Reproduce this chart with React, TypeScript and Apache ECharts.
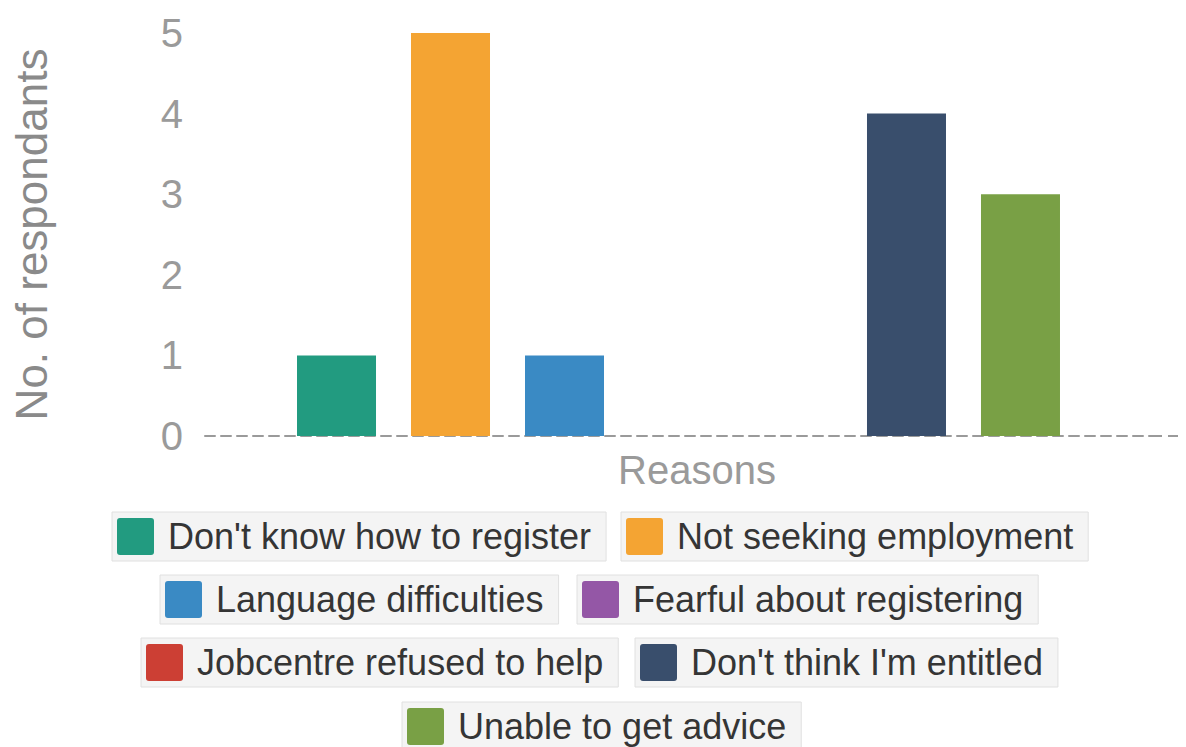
import React, { useEffect, useRef } from "react";
import * as echarts from "echarts";

const categories = ["Reasons"];
const seriesNames = [
  "Don't know how to register",
  "Not seeking employment",
  "Language difficulties",
  "Fearful about registering",
  "Jobcentre refused to help",
  "Don't think I'm entitled",
  "Unable to get advice",
];
const seriesValues = [1, 5, 1, 0, 0, 4, 3];
const seriesColors = ["#229b80", "#f4a433", "#3a8ac4", "#9457a6", "#cc3f34", "#394e6c", "#79a045"];
const yTicks = [0, 1, 2, 3, 4, 5];

// legend box positions [left, top]
const legendPos = [
  [112, 512],
  [621, 512],
  [160, 575],
  [577, 575],
  [141, 638],
  [635, 638],
  [402, 702],
];

const squareIcon = "path://M3,0 H34 Q37,0 37,3 V34 Q37,37 34,37 H3 Q0,37 0,34 V3 Q0,0 3,0 Z";

export default function App() {
  const ref = useRef<HTMLDivElement>(null);
  useEffect(() => {
    if (!ref.current) return;
    const chart = echarts.init(ref.current, undefined, { renderer: "svg" });
    const font = "'Liberation Sans', Arial, sans-serif";
    chart.setOption({
      animation: false,
      textStyle: { fontFamily: font },
      grid: { left: 205, right: 34, top: 33, bottom: 311, containLabel: false },
      xAxis: {
        type: "category",
        data: categories,
        axisLine: { show: true, lineStyle: { color: "#9a9a9a", width: 2, type: [10, 6] } },
        axisTick: { show: false },
        axisLabel: { color: "#9a9a9a", fontSize: 40, margin: 14, padding: [0, 0, 0, 37], fontFamily: font },
      },
      yAxis: {
        type: "value",
        min: yTicks[0],
        max: yTicks[yTicks.length - 1],
        interval: 1,
        name: "No. of respondants",
        nameLocation: "middle",
        nameGap: 152,
        nameRotate: 90,
        nameTextStyle: { color: "#8a8a8a", fontSize: 44, fontFamily: font },
        axisLine: { show: false },
        axisTick: { show: false },
        splitLine: { show: false },
        axisLabel: { color: "#9a9a9a", fontSize: 40, margin: 22, fontFamily: font },
      },
      legend: seriesNames.map((n, i) => ({
        data: [n],
        left: legendPos[i][0],
        top: legendPos[i][1],
        orient: "horizontal",
        padding: [6, 15, 6, 5],
        backgroundColor: "#f4f4f4",
        borderColor: "#e0e0e0",
        borderWidth: 1,
        itemWidth: 37,
        itemHeight: 37,
        icon: squareIcon,
        selectedMode: false,
        textStyle: { color: "#353535", fontSize: 36, fontFamily: font, padding: [0, 0, 0, 9] },
      })),
      graphic: [
        {
          type: "line",
          shape: { x1: 1152, y1: 436, x2: 1180, y2: 436 },
          style: { stroke: "#9a9a9a", lineWidth: 2, lineDash: [10, 6] },
          z: 10,
        },
      ],
      series: seriesNames.map((n, i) => ({
        name: n,
        type: "bar",
        data: [seriesValues[i]],
        barWidth: 79,
        barGap: "44.3%",
        itemStyle: { color: seriesColors[i] },
      })),
    });
    return () => chart.dispose();
  }, []);
  return <div ref={ref} style={{ position: "fixed", left: 0, top: 0, width: 1186, height: 747, background: "#fff" }} />;
}
